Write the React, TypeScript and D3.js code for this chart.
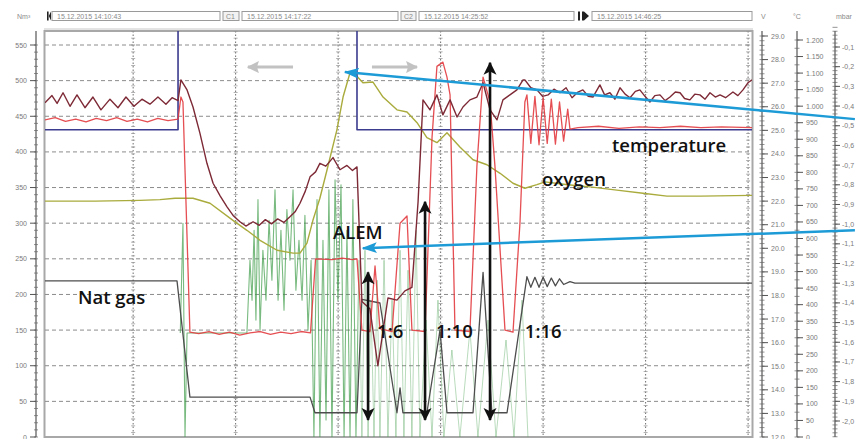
import React from "react";
import * as d3 from "d3";

const W = 855;
const H = 439;

// header texts
const HEADER_TIMES = ["15.12.2015 14:10:43", "15.12.2015 14:17:22", "15.12.2015 14:25:52", "15.12.2015 14:46:25"];
const CURSOR_LABELS = ["C1", "C2"];
const UNIT_LABELS = ["Nm³", "V", "°C", "mbar"];

// axes ticks
const LEFT_TICKS = d3.range(0, 551, 50);
const V_TICKS = d3.range(12, 29.01, 1);
const C_TICKS = d3.range(0, 1201, 50);
const MBAR_TICKS = d3.range(1, 21).map((k) => -k / 10);
const GRID_T = [4.3, 9.3, 14.3, 19.3, 24.3, 29.3, 34.3];
const GRID_V = d3.range(50, 551, 50);

// series (time in minutes, value on left axis)
const NAVY_T = [0, 6.49, 6.49, 15.22, 15.22, 34.49];
const NAVY_V = [431, 431, 600, 600, 431, 431];

const RED_T = [0, 0.5, 1.0, 1.5, 2.0, 2.5, 3.0, 3.5, 4.0, 4.5, 5.0, 5.5, 6.0, 6.49, 6.63, 6.73, 7.07, 7.5, 8.0, 8.5, 9.0, 9.5, 10.0, 10.5, 11.0, 11.5, 12.0, 12.5, 12.95, 13.2, 14.0, 14.5, 15.0, 15.22, 15.46, 15.85, 16.1, 16.34, 16.93, 17.32, 17.66, 17.9, 18.54, 18.88, 19.12, 19.41, 19.61, 19.76, 20.0, 20.73, 21.07, 21.37, 21.71, 21.95, 22.44, 22.83, 23.17, 23.41, 23.51, 23.7, 23.9, 24.1, 24.3, 24.5, 24.7, 24.9, 25.1, 25.3, 25.5, 25.61, 26.0, 27, 28, 29, 30, 31, 32, 33, 34.49];
const RED_V = [445, 448, 443, 446, 442, 447, 444, 448, 443, 446, 442, 447, 444, 446, 477, 470, 147, 145, 148, 144, 147, 143, 146, 148, 144, 147, 145, 148, 146, 250, 249, 251, 249, 250, 150, 148, 240, 152, 148, 300, 310, 150, 148, 420, 520, 526, 505, 480, 150, 148, 380, 505, 470, 380, 150, 147, 300, 470, 480, 412, 478, 410, 476, 412, 474, 411, 470, 415, 460, 432, 434, 436, 433, 435, 434, 436, 434, 435, 434];

const MAROON_T = [0, 0.34, 0.59, 0.88, 1.22, 1.56, 1.95, 2.34, 2.73, 3.17, 3.56, 3.95, 4.34, 4.73, 5.12, 5.51, 5.9, 6.2, 6.49, 6.63, 6.93, 7.22, 7.56, 7.9, 8.2, 8.55, 8.88, 9.2, 9.51, 9.8, 10.15, 10.45, 10.75, 11.05, 11.35, 11.65, 11.95, 12.2, 12.44, 12.7, 12.93, 13.2, 13.41, 13.7, 14.05, 14.39, 14.73, 15.0, 15.22, 15.46, 15.85, 16.24, 16.73, 17.17, 17.56, 17.9, 18.2, 18.44, 18.78, 19.12, 19.41, 19.76, 20.1, 20.39, 20.73, 21.07, 21.37, 21.71, 22.05, 22.34, 22.68, 23.02, 23.32, 23.41, 23.7, 24.0, 24.27, 24.54, 24.83, 25.12, 25.42, 25.71, 26.0, 26.24, 26.5, 26.73, 27.07, 27.3, 27.56, 27.8, 28.05, 28.3, 28.54, 28.8, 29.02, 29.27, 29.51, 29.75, 30.0, 30.25, 30.49, 30.75, 30.98, 31.2, 31.46, 31.7, 31.95, 32.2, 32.44, 32.7, 32.93, 33.2, 33.56, 33.8, 34.05, 34.29, 34.49];
const MAROON_V = [469, 479, 468, 483, 464, 480, 462, 477, 459, 474, 462, 477, 464, 474, 467, 477, 467, 476, 472, 501, 487, 463, 426, 384, 356, 338, 323, 310, 302, 296, 302, 297, 305, 299, 306, 301, 309, 316, 328, 345, 365, 372, 384, 380, 392, 375, 381, 374, 379, 190, 180, 100, 195, 192, 205, 210, 330, 473, 459, 480, 452, 473, 449, 463, 473, 477, 497, 459, 445, 473, 480, 487, 501, 501, 490, 487, 478, 480, 488, 483, 490, 476, 484, 487, 478, 477, 494, 480, 483, 474, 490, 481, 476, 485, 487, 478, 470, 479, 480, 472, 477, 484, 483, 475, 473, 481, 480, 474, 483, 477, 480, 476, 484, 479, 487, 497, 501];

const OLIVE_T = [0, 2.44, 4.63, 5.61, 6.34, 7.22, 8.05, 9.17, 9.85, 10.49, 11.32, 12.1, 12.44, 12.78, 13.07, 13.41, 13.76, 14.24, 14.54, 14.88, 15.02, 15.25, 15.51, 16.0, 16.49, 17.17, 17.66, 18.15, 18.63, 19.12, 19.61, 20.24, 20.88, 21.56, 22.2, 22.83, 23.41, 24.0, 24.39, 25.5, 26.59, 28.0, 29.17, 30.34, 32, 34.49];
const OLIVE_V = [331, 331, 332, 333, 335, 335, 328, 304, 290, 276, 262, 258, 258, 272, 304, 335, 375, 431, 477, 511, 512, 505, 497, 498, 477, 459, 456, 441, 420, 413, 427, 407, 389, 382, 370, 356, 349, 354, 358, 354, 351, 346, 342, 338, 338, 339];

const GRAY_T = [0, 6.44, 7.07, 12.93, 13.17, 15.22, 15.46, 16.34, 17.17, 17.32, 17.46, 18.63, 19.27, 19.61, 20.88, 21.37, 21.8, 22.54, 23.51, 23.7, 23.9, 24.1, 24.3, 24.5, 24.7, 24.9, 25.1, 25.3, 25.61, 25.85, 34.49];
const GRAY_V = [219, 219, 56, 56, 34, 34, 193, 188, 34, 69, 34, 34, 150, 34, 34, 231, 34, 34, 225, 210, 224, 210, 224, 211, 223, 212, 222, 214, 218, 216, 216];

const GREEN_T = [6.6, 6.73, 6.83, 6.93, 9.6, 9.85, 10.0, 10.1, 10.2, 10.29, 10.39, 10.49, 10.63, 10.78, 10.93, 11.07, 11.22, 11.37, 11.51, 11.66, 11.8, 11.95, 12.1, 12.24, 12.39, 12.54, 12.68, 12.83, 12.98, 13.12, 13.27, 13.41, 13.56, 13.71, 13.85, 14.0, 14.15, 14.29, 14.44, 14.59, 14.73, 14.88, 15.02, 15.17, 15.32, 15.46, 15.61, 15.76, 15.9, 16.05, 16.2, 16.34, 16.54, 16.73, 16.93, 17.12, 17.32, 17.51, 17.71, 17.9, 18.1, 18.29, 18.59, 18.88, 19.17, 19.46, 19.85, 20.24, 20.73, 21.12, 21.61, 22.0, 22.49, 22.88, 23.27, 23.56];
const GREEN_V = [146, 300, 0, 146, 146, 146, 248, 192, 290, 164, 333, 150, 262, 192, 304, 220, 347, 192, 290, 178, 319, 248, 347, 206, 276, 192, 311, 150, 248, 0, 333, 0, 276, 24, 347, 0, 361, 192, 354, 0, 290, 0, 333, 0, 248, 0, 262, 0, 192, 0, 220, 0, 248, 0, 192, 0, 262, 0, 234, 0, 290, 0, 164, 0, 192, 0, 122, 0, 150, 0, 164, 0, 136, 0, 192, 0];
const GREEN_FADE_T = 15.3;

// annotations (data coordinates)
const RATIO_LABELS = ["1:6", "1:10", "1:16"];
const RATIO_ARROW_T = [15.76, 18.54, 21.71];
const RATIO_ARROW_TOP = [231, 330, 525];
const RATIO_ARROW_BOTTOM = [24, 24, 24];
const RATIO_LABEL_T = [16.2, 19.07, 23.41];
const SERIES_LABELS = ["Nat gas", "ALEM", "oxygen", "temperature"];
const SERIES_LABEL_T = [1.61, 14.05, 24.24, 27.66];
const SERIES_LABEL_V = [186, 278, 352, 400];
const BLUE_FROM_T = [39.51, 39.51];
const BLUE_FROM_V = [446, 290];
const BLUE_TO_T = [14.63, 15.51];
const BLUE_TO_V = [512, 265];
const GREY_ARROW_FROM_T = [12.1, 15.95];
const GREY_ARROW_TO_T = [9.9, 18.15];
const GREY_ARROW_V = 519;

export default function App() {
  const x = d3.scaleLinear().domain([0, 34.49]).range([45, 752]);
  const y = d3.scaleLinear().domain([0, 550]).range([437, 45]);
  const yV = d3.scaleLinear().domain([12, 29]).range([437, 36]);
  const yC = d3.scaleLinear().domain([0, 1200]).range([437, 40]);
  const yM = d3.scaleLinear().domain([-2.0, -0.1]).range([421, 47]);

  const mk = (ts: number[], vs: number[]) =>
    d3.line<number>().x((_, i) => x(ts[i])).y((d) => y(d))(vs) || "";

  const fmtC = (v: number) => (v >= 1000 ? d3.format(",")(v).replace(",", ".") : String(v));
  const fmtV = (v: number) => v.toFixed(1);
  const fmtM = (v: number) => v.toFixed(1).replace(".", ",");

  const axisFont = "Liberation Sans, Arial, sans-serif";
  const annFont = "'Open Sans', 'Noto Sans', sans-serif";

  const plotTop = 31;
  const plotBottom = 437;

  const minorLeft = d3.range(0, 551, 10);
  const minorV = d3.range(12, 29.01, 0.2);
  const minorC = d3.range(0, 1201, 25);
  const minorM = d3.range(0, 106).map((k) => -k * 0.02);

  const headerBoxes = [
    { x0: 52, x1: 220, text: HEADER_TIMES[0] },
    { x0: 242, x1: 398, text: HEADER_TIMES[1] },
    { x0: 419, x1: 574, text: HEADER_TIMES[2] },
    { x0: 592, x1: 752, text: HEADER_TIMES[3] },
  ];
  const cursorBoxes = [
    { x0: 223, x1: 239, text: CURSOR_LABELS[0] },
    { x0: 401, x1: 416, text: CURSOR_LABELS[1] },
  ];
  const fadeX = x(GREEN_FADE_T);

  return (
    <svg width={W} height={H} style={{ position: "absolute", left: 0, top: 0, background: "#fff" }}>
      <defs>
        <clipPath id="plotclip">
          <rect x={45} y={plotTop} width={707} height={plotBottom - plotTop} />
        </clipPath>
        <clipPath id="greenA">
          <rect x={45} y={plotTop} width={fadeX - 45} height={plotBottom - plotTop} />
        </clipPath>
        <clipPath id="greenB">
          <rect x={fadeX} y={plotTop} width={752 - fadeX} height={plotBottom - plotTop} />
        </clipPath>
        <marker id="blackHead" viewBox="0 0 12 12" refX="11" refY="6" markerWidth="13" markerHeight="14" markerUnits="userSpaceOnUse" orient="auto-start-reverse">
          <path d="M0,0 L12,6 L0,12 L3,6 z" fill="#111" />
        </marker>
        <marker id="blueHead" viewBox="0 0 14 10" refX="13" refY="5" markerWidth="15" markerHeight="11" markerUnits="userSpaceOnUse" orient="auto-start-reverse">
          <path d="M0,0 L14,5 L0,10 L3,5 z" fill="#1d9bd7" />
        </marker>
        <marker id="greyHead" viewBox="0 0 12 12" refX="11" refY="6" markerWidth="12" markerHeight="12" markerUnits="userSpaceOnUse" orient="auto-start-reverse">
          <path d="M0,0 L12,6 L0,12 L2,6 z" fill="#c2c2c2" />
        </marker>
      </defs>

      {/* header */}
      <g fontFamily={axisFont} fontSize={7} fill="#8a8a8a">
        <text x={17} y={19}>{UNIT_LABELS[0]}</text>
        <text x={761} y={19}>{UNIT_LABELS[1]}</text>
        <text x={793} y={19}>{UNIT_LABELS[2]}</text>
        <text x={836} y={19}>{UNIT_LABELS[3]}</text>
        <rect x={47} y={11.5} width={1.6} height={9} fill="#222" />
        <path d="M51,11.5 L48.8,16 L51,20.5 z" fill="#222" />
        <rect x={578} y={11.5} width={2} height={9} fill="#222" />
        <rect x={582} y={11.5} width={2} height={9} fill="#222" />
        <path d="M584,11.5 L589,16 L584,20.5 z" fill="#222" />
        {headerBoxes.map((b, i) => (
          <g key={"hb" + i}>
            <rect x={b.x0} y={11.5} width={b.x1 - b.x0} height={9} fill="#fff" stroke="#9a9a9a" strokeWidth={1} />
            <text x={b.x0 + 5} y={18.5}>{b.text}</text>
          </g>
        ))}
        {cursorBoxes.map((b, i) => (
          <g key={"cb" + i}>
            <rect x={b.x0} y={11.5} width={b.x1 - b.x0} height={9} fill="#f2f2f2" stroke="#9a9a9a" strokeWidth={1} />
            <text x={b.x0 + 3} y={18.5}>{b.text}</text>
          </g>
        ))}
      </g>

      {/* plot frame */}
      <rect x={44.5} y={plotTop} width={708} height={plotBottom - plotTop} fill="#fff" stroke="#a8a8a8" strokeWidth={2} />
      <line x1={44} x2={753} y1={plotTop - 2} y2={plotTop - 2} stroke="#c8c8c8" strokeWidth={1} />

      {/* grid */}
      <g>
        {GRID_V.map((v) => (
          <line key={"gh" + v} x1={45} x2={752} y1={y(v)} y2={y(v)} stroke="#8c8c8c" strokeWidth={1} strokeDasharray="4,3" />
        ))}
        {GRID_T.map((t) => (
          <g key={"gv" + t}>
            <line x1={x(t)} x2={x(t)} y1={plotTop} y2={plotBottom} stroke="#6e6e6e" strokeWidth={1} strokeDasharray="1.5,2" />
            <line x1={x(t)} x2={x(t)} y1={plotTop} y2={plotBottom} stroke="#9a9a9a" strokeWidth={4} strokeDasharray="0.8,6" />
          </g>
        ))}
      </g>

      {/* series */}
      <g clipPath="url(#plotclip)" fill="none" strokeLinejoin="round">
        <g clipPath="url(#greenA)">
          <path d={mk(GREEN_T, GREEN_V)} stroke="#3f9c48" strokeWidth={1.1} strokeOpacity={0.7} fill="none" />
        </g>
        <g clipPath="url(#greenB)">
          <path d={mk(GREEN_T, GREEN_V)} stroke="#4fa657" strokeWidth={1} strokeOpacity={0.4} fill="none" />
        </g>
        <path d={mk(GRAY_T, GRAY_V)} stroke="#4d4d4d" strokeWidth={1.3} />
        <path d={mk(OLIVE_T, OLIVE_V)} stroke="#a9ab3c" strokeWidth={1.4} />
        <path d={mk(NAVY_T, NAVY_V)} stroke="#3b3b8f" strokeWidth={1.6} />
        <path d={mk(RED_T, RED_V)} stroke="#e23b3f" strokeWidth={1.3} strokeOpacity={0.9} />
        <path d={mk(MAROON_T, MAROON_V)} stroke="#7d2a36" strokeWidth={1.4} />
      </g>

      {/* left axis */}
      <g fontFamily={axisFont} fontSize={7} fill="#7a7a7a">
        <line x1={36} x2={36} y1={plotTop} y2={plotBottom} stroke="#555" strokeWidth={1.2} />
        {minorLeft.map((v) => (
          <line key={"lm" + v} x1={34} x2={38} y1={y(v)} y2={y(v)} stroke="#666" strokeWidth={0.7} />
        ))}
        {LEFT_TICKS.map((v) => (
          <g key={"lt" + v}>
            <line x1={30} x2={36} y1={y(v)} y2={y(v)} stroke="#555" strokeWidth={1} />
            <text x={27} y={y(v) + 2.5} textAnchor="end">{v}</text>
          </g>
        ))}
      </g>

      {/* right axis V */}
      <g fontFamily={axisFont} fontSize={7} fill="#7a7a7a">
        <line x1={762} x2={762} y1={plotTop} y2={plotBottom} stroke="#555" strokeWidth={1.2} />
        {minorV.map((v, i) => (
          <line key={"vm" + i} x1={759.5} x2={764.5} y1={yV(v)} y2={yV(v)} stroke="#666" strokeWidth={0.7} />
        ))}
        {V_TICKS.map((v) => (
          <g key={"vt" + v}>
            <line x1={762} x2={768} y1={yV(v)} y2={yV(v)} stroke="#555" strokeWidth={1} />
            <text x={771} y={yV(v) + 2.5}>{fmtV(v)}</text>
          </g>
        ))}
      </g>

      {/* right axis °C */}
      <g fontFamily={axisFont} fontSize={7} fill="#7a7a7a">
        <line x1={797} x2={797} y1={plotTop} y2={plotBottom} stroke="#555" strokeWidth={1.2} />
        {minorC.map((v) => (
          <line key={"cm" + v} x1={794.5} x2={799.5} y1={yC(v)} y2={yC(v)} stroke="#666" strokeWidth={0.7} />
        ))}
        {C_TICKS.map((v) => (
          <g key={"ct" + v}>
            <line x1={797} x2={803} y1={yC(v)} y2={yC(v)} stroke="#555" strokeWidth={1} />
            <text x={806} y={yC(v) + 2.5}>{fmtC(v)}</text>
          </g>
        ))}
      </g>

      {/* right axis mbar */}
      <g fontFamily={axisFont} fontSize={7} fill="#7a7a7a">
        <line x1={835} x2={835} y1={plotTop} y2={plotBottom} stroke="#555" strokeWidth={1.2} />
        {minorM.map((v, i) => (
          <line key={"mm" + i} x1={832.5} x2={837.5} y1={yM(v)} y2={yM(v)} stroke="#666" strokeWidth={0.7} />
        ))}
        {MBAR_TICKS.map((v) => (
          <g key={"mt" + v}>
            <line x1={835} x2={840} y1={yM(v)} y2={yM(v)} stroke="#555" strokeWidth={1} />
            <text x={842} y={yM(v) + 2.5}>{fmtM(v)}</text>
          </g>
        ))}
      </g>

      {/* annotations */}
      {GREY_ARROW_FROM_T.map((t, i) => (
        <line key={"ga" + i} x1={x(t)} x2={x(GREY_ARROW_TO_T[i])} y1={y(GREY_ARROW_V)} y2={y(GREY_ARROW_V)} stroke="#c2c2c2" strokeWidth={3} markerEnd="url(#greyHead)" />
      ))}
      {RATIO_ARROW_T.map((t, i) => (
        <line key={"ra" + i} x1={x(t)} x2={x(t)} y1={y(RATIO_ARROW_TOP[i])} y2={y(RATIO_ARROW_BOTTOM[i])} stroke="#111" strokeWidth={2.6} markerStart="url(#blackHead)" markerEnd="url(#blackHead)" />
      ))}
      {BLUE_FROM_T.map((t, i) => (
        <line key={"bl" + i} x1={x(t)} y1={y(BLUE_FROM_V[i])} x2={x(BLUE_TO_T[i])} y2={y(BLUE_TO_V[i])} stroke="#1d9bd7" strokeWidth={2.5} markerEnd="url(#blueHead)" />
      ))}
      <g fontFamily={annFont} fontWeight={600} fontSize={18.5} fill="#111">
        {RATIO_LABELS.map((s, i) => (
          <text key={"rl" + i} x={x(RATIO_LABEL_T[i])} y={y(139)}>{s}</text>
        ))}
        {SERIES_LABELS.map((s, i) => (
          <text key={"sl" + i} x={x(SERIES_LABEL_T[i])} y={y(SERIES_LABEL_V[i])}>{s}</text>
        ))}
      </g>
    </svg>
  );
}
